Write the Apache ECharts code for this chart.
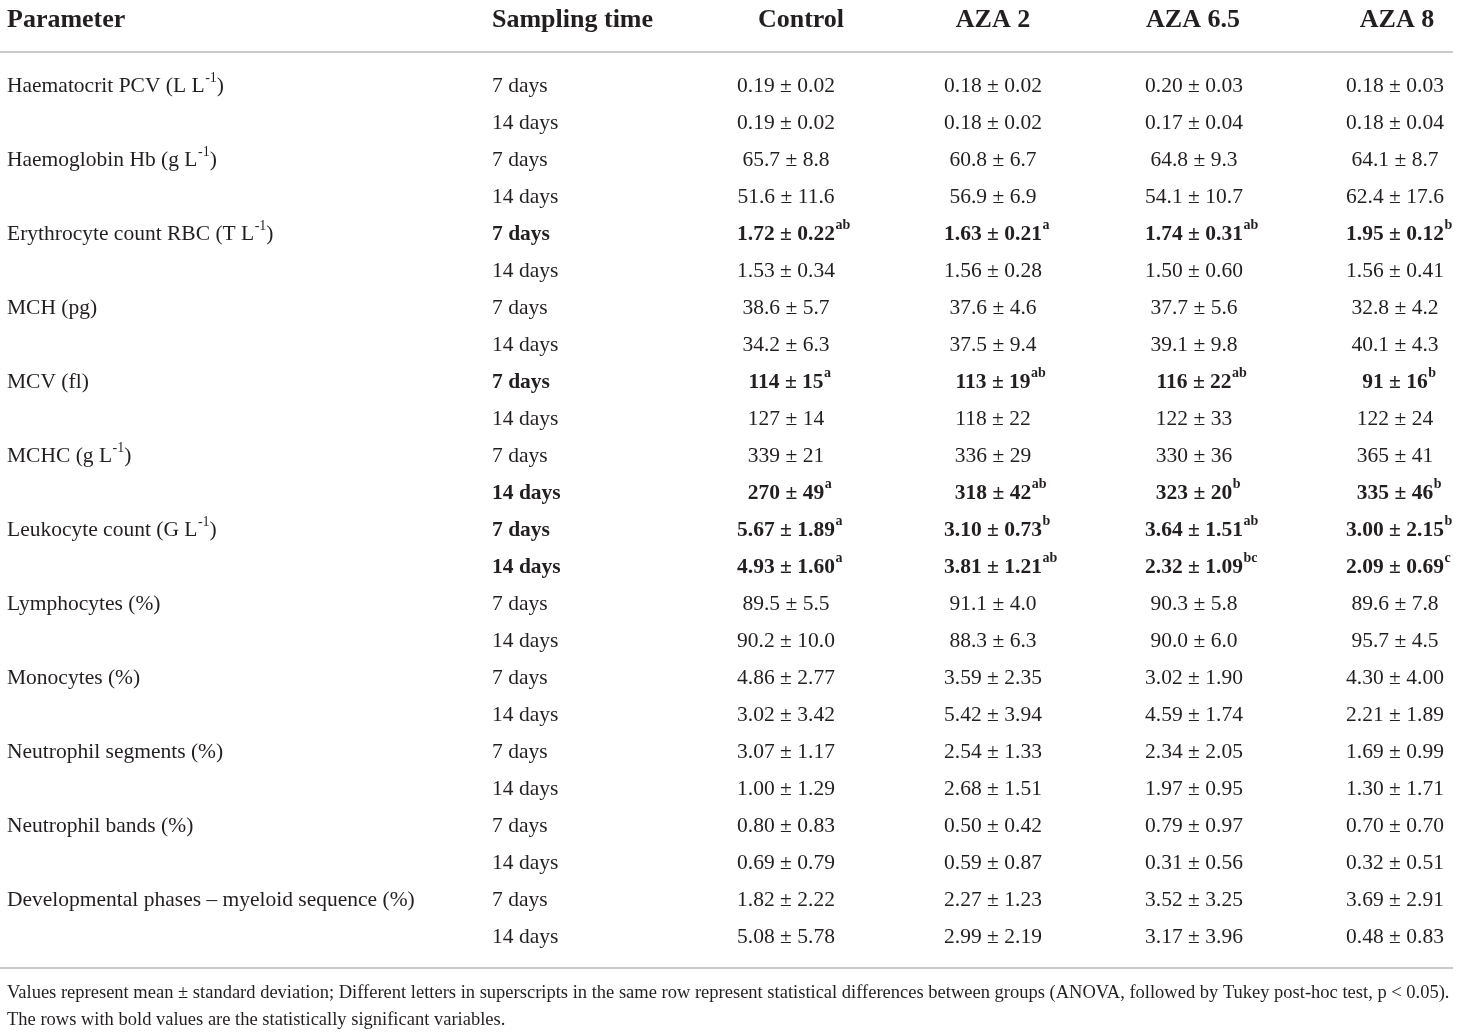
<!DOCTYPE html>
<html lang="en">
<head>
<meta charset="UTF-8">
<title>Haematological parameters</title>
<style>
  html, body { margin: 0; padding: 0; background: #fff; }
</style>
</head>
<body>
<div id="main" style="width: 1460px;height: 1036px;"></div>
<script src="https://cdn.jsdelivr.net/npm/echarts@6/dist/echarts.min.js"></script>
<script type="text/javascript">

    // table contents; "^{..}" marks a superscript
    var headers = ['Parameter', 'Sampling time', 'Control', 'AZA 2', 'AZA 6.5', 'AZA 8'];

    var parameters = [
        'Haematocrit PCV (L L^{-1})',
        'Haemoglobin Hb (g L^{-1})',
        'Erythrocyte count RBC (T L^{-1})',
        'MCH (pg)',
        'MCV (fl)',
        'MCHC (g L^{-1})',
        'Leukocyte count (G L^{-1})',
        'Lymphocytes (%)',
        'Monocytes (%)',
        'Neutrophil segments (%)',
        'Neutrophil bands (%)',
        'Developmental phases \u2013 myeloid sequence (%)'
    ];

    var samplingTimes = ['7 days', '14 days'];

    var control = [
        '0.19 ± 0.02', '0.19 ± 0.02', '65.7 ± 8.8', '51.6 ± 11.6',
        '1.72 ± 0.22^{ab}', '1.53 ± 0.34', '38.6 ± 5.7', '34.2 ± 6.3',
        '114 ± 15^{a}', '127 ± 14', '339 ± 21', '270 ± 49^{a}',
        '5.67 ± 1.89^{a}', '4.93 ± 1.60^{a}', '89.5 ± 5.5', '90.2 ± 10.0',
        '4.86 ± 2.77', '3.02 ± 3.42', '3.07 ± 1.17', '1.00 ± 1.29',
        '0.80 ± 0.83', '0.69 ± 0.79', '1.82 ± 2.22', '5.08 ± 5.78'
    ];
    var aza2 = [
        '0.18 ± 0.02', '0.18 ± 0.02', '60.8 ± 6.7', '56.9 ± 6.9',
        '1.63 ± 0.21^{a}', '1.56 ± 0.28', '37.6 ± 4.6', '37.5 ± 9.4',
        '113 ± 19^{ab}', '118 ± 22', '336 ± 29', '318 ± 42^{ab}',
        '3.10 ± 0.73^{b}', '3.81 ± 1.21^{ab}', '91.1 ± 4.0', '88.3 ± 6.3',
        '3.59 ± 2.35', '5.42 ± 3.94', '2.54 ± 1.33', '2.68 ± 1.51',
        '0.50 ± 0.42', '0.59 ± 0.87', '2.27 ± 1.23', '2.99 ± 2.19'
    ];
    var aza65 = [
        '0.20 ± 0.03', '0.17 ± 0.04', '64.8 ± 9.3', '54.1 ± 10.7',
        '1.74 ± 0.31^{ab}', '1.50 ± 0.60', '37.7 ± 5.6', '39.1 ± 9.8',
        '116 ± 22^{ab}', '122 ± 33', '330 ± 36', '323 ± 20^{b}',
        '3.64 ± 1.51^{ab}', '2.32 ± 1.09^{bc}', '90.3 ± 5.8', '90.0 ± 6.0',
        '3.02 ± 1.90', '4.59 ± 1.74', '2.34 ± 2.05', '1.97 ± 0.95',
        '0.79 ± 0.97', '0.31 ± 0.56', '3.52 ± 3.25', '3.17 ± 3.96'
    ];
    var aza8 = [
        '0.18 ± 0.03', '0.18 ± 0.04', '64.1 ± 8.7', '62.4 ± 17.6',
        '1.95 ± 0.12^{b}', '1.56 ± 0.41', '32.8 ± 4.2', '40.1 ± 4.3',
        '91 ± 16^{b}', '122 ± 24', '365 ± 41', '335 ± 46^{b}',
        '3.00 ± 2.15^{b}', '2.09 ± 0.69^{c}', '89.6 ± 7.8', '95.7 ± 4.5',
        '4.30 ± 4.00', '2.21 ± 1.89', '1.69 ± 0.99', '1.30 ± 1.71',
        '0.70 ± 0.70', '0.32 ± 0.51', '3.69 ± 2.91', '0.48 ± 0.83'
    ];

    // rows with statistically significant values (printed bold)
    var boldRows = [4, 8, 11, 12, 13];

    var notes = [
        'Values represent mean ± standard deviation; Different letters in superscripts in the same row represent statistical differences between groups (ANOVA, followed by Tukey post-hoc test, p < 0.05).',
        'The rows with bold values are the statistically significant variables.'
    ];

    // layout
    var FONT = '"Liberation Serif", "DejaVu Serif", serif';
    var TEXT = '#231f20';
    var bodyAnchor = [7, 492, 786, 993, 1194, 1395];
    var headAnchor = [7, 492, 801, 993, 1193, 1397];
    var colAlign = ['left', 'left', 'center', 'center', 'center', 'center'];

    // build the cells
    var rowCount = parameters.length * samplingTimes.length;
    var rowIds = [];
    var bodyCells = [];
    var columns = [null, null, control, aza2, aza65, aza8];
    for (var r = 0; r < rowCount; r++) {
        rowIds.push('r' + r);
        var bold = boldRows.indexOf(r) >= 0;
        if (r % 2 === 0) {
            bodyCells.push({ col: 0, row: r, text: parameters[r / 2], bold: false });
        }
        bodyCells.push({ col: 1, row: r, text: samplingTimes[r % 2], bold: bold });
        for (var c = 2; c < columns.length; c++) {
            bodyCells.push({ col: c, row: r, text: columns[c][r], bold: bold });
        }
    }
    var headCells = headers.map(function (h, i) {
        return { col: i, row: 0, text: h, bold: true, head: true };
    });

    var measureCtx = document.createElement('canvas').getContext('2d');
    function textWidth(t, font) {
        measureCtx.font = font;
        return measureCtx.measureText(t).width;
    }

    function splitSegments(t) {
        var out = [];
        var re = /\^\{([^}]*)\}/g, last = 0, m;
        while ((m = re.exec(t)) !== null) {
            if (m.index > last) out.push({ t: t.slice(last, m.index), sup: false });
            out.push({ t: m[1], sup: true });
            last = re.lastIndex;
        }
        if (last < t.length) out.push({ t: t.slice(last), sup: false });
        return out;
    }

    function makeRender(cells, anchors, size, supSize) {
        return function (params, api) {
            var cell = cells[params.dataIndex];
            var pt = api.coord([anchors[cell.col], api.value(1)]);
            var weight = cell.bold ? 'bold ' : '';
            var mainFont = weight + size + 'px ' + FONT;
            var supFont = weight + supSize + 'px ' + FONT;
            var segs = splitSegments(cell.text);
            segs.forEach(function (s) {
                s.w = textWidth(s.t, s.sup ? supFont : mainFont);
            });
            var x = pt[0];
            if (colAlign[cell.col] === 'center') {
                // centre on the main text, superscript trails after it
                var baseW = 0;
                var end = segs.length;
                while (end > 0 && segs[end - 1].sup) end--;
                for (var i = 0; i < end; i++) baseW += segs[i].w;
                x = pt[0] - baseW / 2;
            }
            var children = segs.map(function (s) {
                var el = {
                    type: 'text',
                    x: x,
                    y: s.sup ? pt[1] - size * 0.38 : pt[1],
                    style: {
                        text: s.t,
                        font: s.sup ? supFont : mainFont,
                        fill: TEXT,
                        align: 'left',
                        verticalAlign: 'middle'
                    }
                };
                x += s.w + (s.sup ? 0 : 0.5);
                return el;
            });
            return { type: 'group', children: children };
        };
    }

    var option = {
        backgroundColor: '#fff',
        animation: false,
        grid: [
            { left: 0, width: 1460, top: 2, height: 37 },
            { left: 0, width: 1460, top: 67.5, height: 888 }
        ],
        xAxis: [
            { gridIndex: 0, type: 'value', min: 0, max: 1460, show: false },
            { gridIndex: 1, type: 'value', min: 0, max: 1460, show: false }
        ],
        yAxis: [
            { gridIndex: 0, type: 'category', data: ['head'], show: false },
            { gridIndex: 1, type: 'category', data: rowIds, inverse: true, show: false }
        ],
        series: [
            {
                type: 'custom',
                xAxisIndex: 0,
                yAxisIndex: 0,
                renderItem: makeRender(headCells, headAnchor, 26, 16),
                data: headCells.map(function (c) { return [headAnchor[c.col], c.row]; }),
                silent: true
            },
            {
                type: 'custom',
                xAxisIndex: 1,
                yAxisIndex: 1,
                renderItem: makeRender(bodyCells, bodyAnchor, 21.5, 14),
                data: bodyCells.map(function (c) { return [bodyAnchor[c.col], c.row]; }),
                silent: true
            }
        ],
        graphic: [
            {
                type: 'line', silent: true,
                shape: { x1: 0, y1: 52, x2: 1453, y2: 52 },
                style: { stroke: '#b9b9b9', lineWidth: 1.5 }
            },
            {
                type: 'line', silent: true,
                shape: { x1: 0, y1: 968, x2: 1453, y2: 968 },
                style: { stroke: '#b9b9b9', lineWidth: 1.5 }
            },
            {
                type: 'text', left: 7, top: 984, silent: true,
                style: { text: notes[0], font: '18.5px ' + FONT, fill: TEXT }
            },
            {
                type: 'text', left: 7, top: 1011, silent: true,
                style: { text: notes[1], font: '18.5px ' + FONT, fill: TEXT }
            }
        ]
    };

    var myChart = echarts.init(document.getElementById('main'));
    myChart.setOption(option);
    window.onresize = function () {
        myChart.resize();
    };
</script>
</body>
</html>
